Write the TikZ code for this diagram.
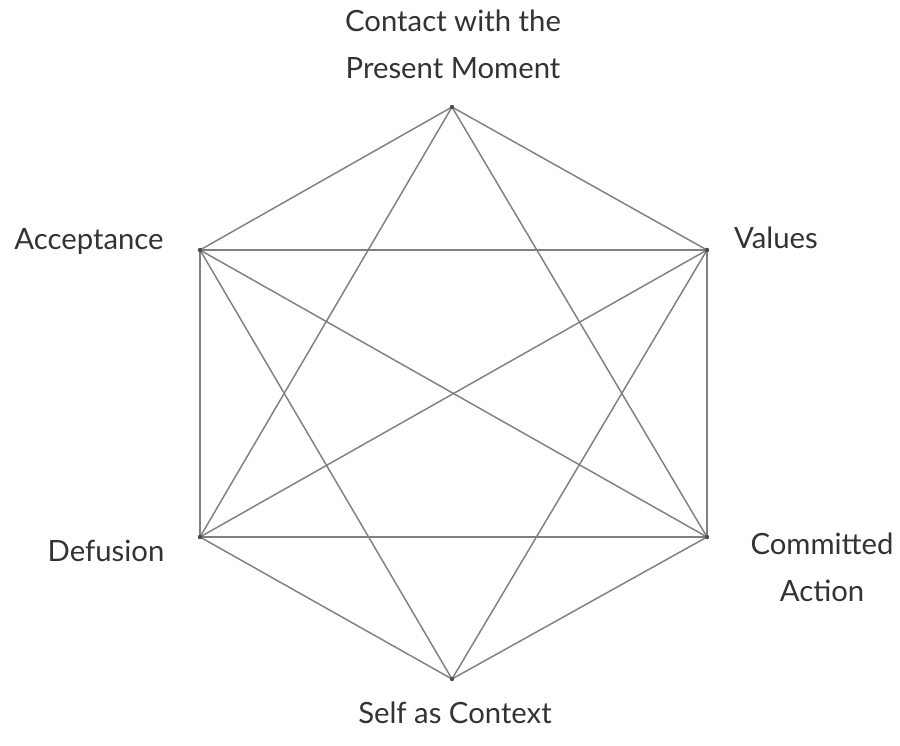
\documentclass[tikz,border=0pt]{standalone}
\usepackage{fontspec}
\setmainfont{Lato}
\begin{document}
\begin{tikzpicture}[x=0.03cm,y=-0.03cm,
    edge/.style={draw=black!50,line width=1.25pt},
    lbl/.style={text=black!80,font=\fontsize{25}{40}\selectfont,align=center}]
  \useasboundingbox (0,0) rectangle (900,745);
  % Corners of the hexagon
  \coordinate (pm) at (452,107);
  \coordinate (ac) at (200,250);
  \coordinate (va) at (707,250);
  \coordinate (de) at (200,537);
  \coordinate (ca) at (707,537);
  \coordinate (sc) at (452,679);
  % Every pair joined, except top to bottom
  \foreach \a/\b in {pm/ac,pm/va,pm/de,pm/ca,ac/va,ac/de,ac/ca,ac/sc,
                     va/de,va/ca,va/sc,de/ca,de/sc,ca/sc}
    \draw[edge] (\a) -- (\b);
  \foreach \p in {pm,ac,va,de,ca,sc}
    \fill[black!70] (\p) circle (2.2);
  % Labels
  \node[lbl] (pmlabel) at (453,44) {Contact with the\\Present Moment};
  \node[lbl] (aclabel) at (89,242) {Acceptance};
  \node[lbl] (valabel) at (776,238) {Values};
  \node[lbl] (delabel) at (106,551) {Defusion};
  \node[lbl] (calabel) at (822,567) {Committed\\Action};
  \node[lbl] (sclabel) at (455,713) {Self as Context};
\end{tikzpicture}
\end{document}
